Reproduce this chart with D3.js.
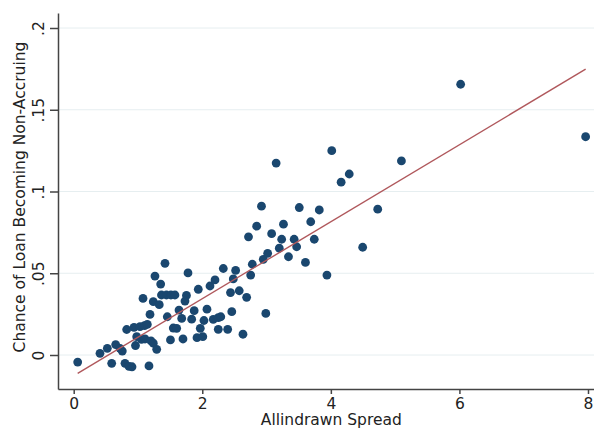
<!DOCTYPE html>
<html>
<head>
<meta charset="utf-8">
<script src="https://cdn.jsdelivr.net/npm/d3@7"></script>
<style>
    body { margin: 0; background: #fff; }
    svg { display: block; font-family: "DejaVu Sans", Verdana, sans-serif; }
</style>
</head>
<body>
<svg id="chart" width="594" height="429"></svg>
<script>
// allindrawn spread (x) and chance of becoming non-accruing (y)
const spread = [
    0.062, 0.409, 0.523, 0.653, 0.720, 0.756, 0.591, 0.798, 0.860, 0.907,
    1.171, 0.824, 0.938, 1.031, 1.101, 1.145, 1.187, 0.980, 1.054, 0.961,
    1.109, 1.202, 1.238, 1.291, 1.078, 1.238, 1.331, 1.264, 1.353, 1.420,
    1.365, 1.443, 1.513, 1.575, 1.456, 1.505, 1.549, 1.602, 1.700, 1.638,
    1.680, 1.754, 1.731, 1.778, 1.874, 1.835, 2.026, 1.969, 1.918, 2.008,
    2.073, 1.938, 2.120, 2.198, 2.327, 2.519, 2.482, 2.439, 2.575, 2.690,
    2.459, 2.171, 2.249, 2.288, 2.249, 2.395, 2.633, 2.719, 2.846, 2.921,
    2.778, 2.753, 2.949, 3.017, 2.988, 3.079, 3.198, 3.235, 3.263, 3.149,
    3.341, 3.429, 3.468, 3.509, 3.605, 3.687, 3.742, 3.820, 3.939, 4.014,
    4.160, 4.286, 4.495, 4.729, 5.098, 6.019, 7.963
];
const chance = [
    -0.0043, 0.0010, 0.0041, 0.0064, 0.0041, 0.0024, -0.0051, -0.0051, -0.0070, -0.0072,
    -0.0067, 0.0156, 0.0169, 0.0174, 0.0180, 0.0187, 0.0248, 0.0112, 0.0096, 0.0058,
    0.0098, 0.0087, 0.0072, 0.0035, 0.0346, 0.0326, 0.0308, 0.0483, 0.0434, 0.0561,
    0.0367, 0.0367, 0.0367, 0.0367, 0.0234, 0.0092, 0.0165, 0.0163, 0.0098, 0.0275,
    0.0224, 0.0364, 0.0330, 0.0502, 0.0271, 0.0219, 0.0211, 0.0163, 0.0106, 0.0112,
    0.0280, 0.0402, 0.0422, 0.0459, 0.0529, 0.0517, 0.0465, 0.0382, 0.0393, 0.0353,
    0.0265, 0.0218, 0.0228, 0.0234, 0.0157, 0.0157, 0.0127, 0.0723, 0.0788, 0.0910,
    0.0555, 0.0489, 0.0585, 0.0622, 0.0254, 0.0742, 0.0653, 0.0708, 0.0800, 0.1174,
    0.0601, 0.0708, 0.0662, 0.0902, 0.0566, 0.0815, 0.0708, 0.0887, 0.0489, 0.1250,
    0.1057, 0.1107, 0.0659, 0.0892, 0.1187, 0.1656, 0.1335
];
// linear fit, drawn between the smallest and largest spread
const fitX = [0.062, 7.963];
const fitY = [-0.0112, 0.1748];

const xTicks = [0, 2, 4, 6, 8];
const yTicks = [0, 0.05, 0.1, 0.15, 0.2];
const xTitle = "Allindrawn Spread";
const yTitle = "Chance of Loan Becoming Non-Accruing";

const svg = d3.select("#chart");

const x = d3.scaleLinear().domain([0, 8]).range([73.7, 588]);
x.domain([x.invert(58), x.invert(594)]).range([58, 594]);

const y = d3.scaleLinear().domain([0, 0.2]).range([355, 28]);
y.domain([y.invert(389), y.invert(13)]).range([389, 13]);

const fmtY = d => d === 0 ? "0" : String(d).replace(/^0/, "");

// grid
svg.append("g")
    .selectAll("line")
    .data(yTicks)
    .join("line")
    .attr("x1", 59)
    .attr("x2", 594)
    .attr("y1", d => y(d))
    .attr("y2", d => y(d))
    .attr("stroke", "#e6eef0")
    .attr("stroke-width", 1);

// axes
const yAxis = svg.append("g")
    .attr("transform", "translate(58,0)")
    .call(d3.axisLeft(y).tickValues(yTicks).tickSizeInner(8).tickSizeOuter(0).tickFormat(fmtY));

yAxis.selectAll("text")
    .attr("x", null)
    .attr("dy", null)
    .attr("text-anchor", "middle")
    .attr("transform", "translate(-14.5,0) rotate(-90)")
    .attr("y", 0);

const xAxis = svg.append("g")
    .attr("transform", "translate(0,389)")
    .call(d3.axisBottom(x).tickValues(xTicks).tickSizeInner(5).tickSizeOuter(0));

xAxis.selectAll("text")
    .attr("y", 20)
    .attr("dy", null);

svg.selectAll(".domain, .tick line")
    .attr("stroke", "#444")
    .attr("stroke-width", 1.5);

svg.selectAll(".tick text")
    .attr("font-size", 15.5)
    .attr("font-family", "DejaVu Sans, Verdana, sans-serif")
    .attr("fill", "#222");

// titles
svg.append("text")
    .attr("x", x(0) + (x(8) - x(0)) / 2 + 0.5)
    .attr("y", 425)
    .attr("text-anchor", "middle")
    .attr("font-size", 15.5)
    .attr("fill", "#222")
    .text(xTitle);

svg.append("text")
    .attr("transform", "translate(25,197) rotate(-90)")
    .attr("text-anchor", "middle")
    .attr("font-size", 15.5)
    .attr("fill", "#222")
    .text(yTitle);

// points
svg.append("g")
    .selectAll("circle")
    .data(d3.zip(spread, chance))
    .join("circle")
    .attr("cx", d => x(d[0]))
    .attr("cy", d => y(d[1]))
    .attr("r", 4.4)
    .attr("fill", "#1a476f");

// fitted line
svg.append("line")
    .attr("x1", x(fitX[0]))
    .attr("y1", y(fitY[0]))
    .attr("x2", x(fitX[1]))
    .attr("y2", y(fitY[1]))
    .attr("stroke", "#b0585c")
    .attr("stroke-width", 1.4);
</script>
</body>
</html>
